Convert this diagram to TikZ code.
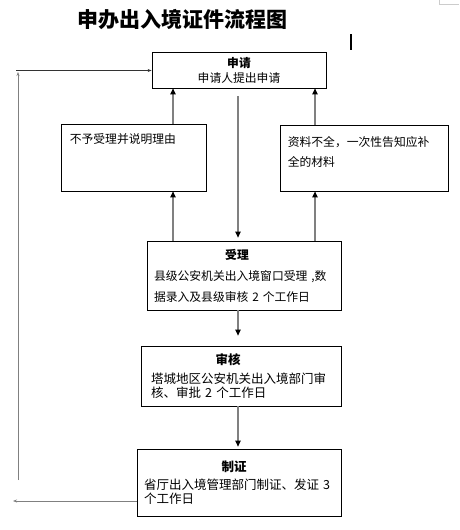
\documentclass[tikz,border=0pt]{standalone}
\usepackage{fontspec}
\setmainfont{Noto Sans CJK SC}
\usetikzlibrary{arrows.meta}
\begin{document}
\begin{tikzpicture}[x=1pt,y=-1pt,
  box/.style={draw, line width=0.8pt, rectangle, inner sep=0pt},
  flow/.style={draw=gray, line width=1.1pt, -{Triangle[length=6pt,width=5.5pt,black]}},
  back/.style={draw=gray, line width=1pt, -{Stealth[length=4pt,width=3pt]}},
  body/.style={font=\fontsize{11.8}{15}\selectfont},
  big/.style={font=\fontsize{12.5}{14}\selectfont}]
\useasboundingbox (0,0) rectangle (459,530);
\node[font=\fontsize{21}{21}\selectfont\bfseries] (title) at (182,20) {申办出入境证件流程图};
\draw[line width=1.6pt] (351,34) -- (351,50);
\draw[gray!40] (439,0) -- (439,4) -- (459,4);
\node[box, body, minimum width=174pt, minimum height=36pt, align=center] (apply) at (239,70) {\textbf{申请}\\申请人提出申请};
\node[box, minimum width=145pt, minimum height=67pt] (reject) at (133.5,157.5) {};
\node[body, anchor=north west, inner sep=0pt] (rejecttext) at ([xshift=9pt,yshift=-10pt]reject.north west) {不予受理并说明理由};
\node[box, minimum width=168pt, minimum height=66pt] (incomplete) at (364,158) {};
\node[body, anchor=north west, inner sep=0pt, align=left, font=\fontsize{11.8}{20}\selectfont] (incompletetext) at ([xshift=8pt,yshift=-12pt]incomplete.north west) {资料不全，一次性告知应补\\全的材料};
\node[box, minimum width=194pt, minimum height=69pt, text width=180pt, align=left, font=\fontsize{11.8}{21}\selectfont] (accept) at (244,275.5)
  {\makebox[166pt]{\textbf{受理}}\\县级公安机关出入境窗口受理 ,数\\据录入及县级审核 2 个工作日};
\node[box, big, minimum width=200pt, minimum height=60pt, text width=180pt, align=left] (review) at (241,376)
  {\makebox[154pt]{\textbf{审核}}\\[5pt]塔城地区公安机关出入境部门审\\核、审批 2 个工作日};
\node[box, minimum width=204pt, minimum height=67pt, text width=190pt, align=left, font=\fontsize{12.5}{13.5}\selectfont] (make) at (239,482.5)
  {\makebox[180pt]{\textbf{制证}}\\[4.5pt]\mbox{省厅出入境管理部门制证、发证 3}\\个工作日};
% columns of the connectors
\coordinate (spine) at (238,0);
\coordinate (lcol) at (173,0);
\coordinate (rcol) at (315,0);
\draw[flow] ([yshift=-8pt]apply.south -| spine) -- ([yshift=3pt]accept.north -| spine);
\draw[flow] (reject.north -| lcol) -- (apply.south -| lcol);
\draw[flow] (incomplete.north -| rcol) -- (apply.south -| rcol);
\draw[flow] (accept.north -| lcol) -- (reject.south -| lcol);
\draw[flow] (accept.north -| rcol) -- (incomplete.south -| rcol);
\draw[flow] (accept.south -| spine) -- ([yshift=10pt]review.north -| spine);
\draw[flow] (review.south -| spine) -- ([yshift=2pt]make.north -| spine);
% loop back on the left
\coordinate (loopend) at (13,501);
\coordinate (loopbottom) at (18,480);
\coordinate (looptop) at (18,72);
\coordinate (loopcorner) at (16,70.5);
\draw[back] (make.west |- loopend) -- (loopend);
\draw[back] (loopbottom) -- (looptop);
\draw[back, draw=black!80] (loopcorner) -- (apply.west |- loopcorner);
\end{tikzpicture}
\end{document}
